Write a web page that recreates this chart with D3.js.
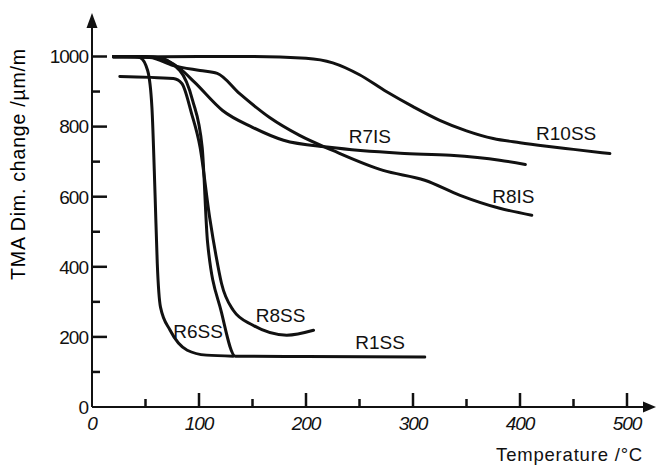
<!DOCTYPE html>
<html>
<head>
<meta charset="utf-8">
<script src="https://cdn.jsdelivr.net/npm/d3@7"></script>
<style>
  html, body { margin: 0; padding: 0; background: #fff; }
  svg { display: block; font-family: 'Liberation Sans', Arial, sans-serif; }
</style>
</head>
<body>
<svg id="chart"></svg>
<script>
'use strict';

// temperature (°C) / dimension change (µm/m)
const r10ssT = [20, 100, 150, 200, 225, 250, 275, 300, 325, 350, 375, 400, 425, 450, 484];
const r10ssV = [998, 1000, 1000, 995, 982, 948, 900, 857, 818, 788, 766, 754, 744, 735, 723];

const r7isT = [20, 50, 64, 82, 96, 122, 150, 179, 222, 288, 335, 381, 405];
const r7isV = [1000, 1000, 995, 966, 926, 846, 798, 761, 741, 724, 718, 704, 692];

const r8isT = [20, 54, 76, 101, 117, 138, 166, 194, 225, 272, 311, 344, 381, 411];
const r8isV = [1000, 997, 974, 960, 952, 894, 826, 775, 732, 675, 647, 604, 567, 547];

const r6ssT = [20, 40, 45, 52, 56, 59, 61, 64, 73, 89, 107, 132];
const r6ssV = [1000, 1000, 997, 960, 855, 600, 410, 285, 219, 162, 148, 145];

const r1ssT = [20, 60, 82, 94, 103, 108, 121, 134, 200, 311];
const r1ssV = [1000, 998, 960, 875, 740, 470, 270, 145, 144, 143];

const r8ssT = [26, 76, 84, 93, 101, 110, 116, 121, 132, 150, 182, 207];
const r8ssV = [943, 937, 923, 838, 741, 540, 430, 353, 276, 234, 205, 219];

const seriesNames = ['R10SS', 'R7IS', 'R8IS', 'R6SS', 'R1SS', 'R8SS'];
const seriesT = [r10ssT, r7isT, r8isT, r6ssT, r1ssT, r8ssT];
const seriesV = [r10ssV, r7isV, r8isV, r6ssV, r1ssV, r8ssV];

// where each curve label sits, in data units
const labelT = [415, 240, 374, 76, 246, 153];
const labelV = [761, 752, 581, 197, 165, 242];

const xTicks = [0, 100, 200, 300, 400, 500];
const xMinorTicks = [50, 150, 250, 350, 450];
const yTicks = [0, 200, 400, 600, 800, 1000];
const yMinorTicks = [100, 300, 500, 700, 900];

const width = 657, height = 465;
const svg = d3.select('#chart').attr('width', width).attr('height', height);

const x = d3.scaleLinear().domain([0, 500]).range([92, 627]);
const y = d3.scaleLinear().domain([0, 1000]).range([407, 56.5]);
const ink = '#111';

// axes
const xAxisEnd = 645, yAxisTop = 26;
svg.append('line')
  .attr('x1', x(0)).attr('x2', xAxisEnd)
  .attr('y1', y(0)).attr('y2', y(0))
  .attr('stroke', ink).attr('stroke-width', 2);
svg.append('line')
  .attr('x1', x(0)).attr('x2', x(0))
  .attr('y1', y(0)).attr('y2', yAxisTop)
  .attr('stroke', ink).attr('stroke-width', 2);

// arrow heads
svg.append('path')
  .attr('d', `M${xAxisEnd - 2},${y(0) - 5.5}L${xAxisEnd + 11},${y(0)}L${xAxisEnd - 2},${y(0) + 5.5}Z`)
  .attr('fill', ink);
svg.append('path')
  .attr('d', `M${x(0) - 5.5},${yAxisTop + 2}L${x(0)},${yAxisTop - 13}L${x(0) + 5.5},${yAxisTop + 2}Z`)
  .attr('fill', ink);

// y ticks (inward)
svg.append('g').selectAll('line')
  .data(yTicks.filter((d) => d > 0))
  .enter().append('line')
  .attr('x1', x(0)).attr('x2', x(0) + 15)
  .attr('y1', (d) => y(d)).attr('y2', (d) => y(d))
  .attr('stroke', ink).attr('stroke-width', 2.5);
svg.append('g').selectAll('line')
  .data(yMinorTicks)
  .enter().append('line')
  .attr('x1', x(0)).attr('x2', x(0) + 8)
  .attr('y1', (d) => y(d)).attr('y2', (d) => y(d))
  .attr('stroke', ink).attr('stroke-width', 2.5);
svg.append('g').selectAll('text')
  .data(yTicks)
  .enter().append('text')
  .attr('x', x(0) - 4)
  .attr('y', (d) => y(d))
  .attr('dy', '0.36em')
  .attr('text-anchor', 'end')
  .attr('font-size', 19)
  .attr('letter-spacing', -1)
  .attr('fill', ink)
  .text((d) => d);

// x ticks (inward)
svg.append('g').selectAll('line')
  .data(xTicks.filter((d) => d > 0))
  .enter().append('line')
  .attr('x1', (d) => x(d)).attr('x2', (d) => x(d))
  .attr('y1', y(0)).attr('y2', y(0) - 14)
  .attr('stroke', ink).attr('stroke-width', 2.5);
svg.append('g').selectAll('line')
  .data(xMinorTicks)
  .enter().append('line')
  .attr('x1', (d) => x(d)).attr('x2', (d) => x(d))
  .attr('y1', y(0)).attr('y2', y(0) - 8)
  .attr('stroke', ink).attr('stroke-width', 2.5);
svg.append('g').selectAll('text')
  .data(xTicks)
  .enter().append('text')
  .attr('x', (d) => x(d))
  .attr('y', y(0) + 23)
  .attr('text-anchor', 'middle')
  .attr('font-size', 19)
  .attr('font-style', 'italic')
  .attr('letter-spacing', -1)
  .attr('fill', ink)
  .text((d) => d);

// axis titles
svg.append('text')
  .attr('transform', 'translate(25,164) rotate(-90)')
  .attr('text-anchor', 'middle')
  .attr('font-size', 19.5)
  .attr('letter-spacing', 0.8)
  .attr('fill', '#000')
  .text('TMA  Dim. change /\u00b5m/m');
svg.append('text')
  .attr('x', 643).attr('y', 461)
  .attr('text-anchor', 'end')
  .attr('font-size', 18.5)
  .attr('letter-spacing', 0.8)
  .attr('fill', ink)
  .text('Temperature /\u00b0C');

// curves
const line = d3.line()
  .x((d) => x(d[0]))
  .y((d) => y(d[1]))
  .curve(d3.curveMonotoneX);

const curves = seriesNames.map((name, i) => ({
  name,
  points: seriesT[i].map((t, j) => [t, seriesV[i][j]]),
}));

svg.append('g').selectAll('path')
  .data(curves)
  .enter().append('path')
  .attr('d', (d) => line(d.points))
  .attr('fill', 'none')
  .attr('stroke', ink)
  .attr('stroke-width', 3)
  .attr('stroke-linecap', 'round')
  .attr('stroke-linejoin', 'round');

svg.append('g').selectAll('text')
  .data(seriesNames)
  .enter().append('text')
  .attr('x', (d, i) => x(labelT[i]))
  .attr('y', (d, i) => y(labelV[i]))
  .attr('font-size', 19)
  .attr('fill', ink)
  .text((d) => d);
</script>
</body>
</html>
